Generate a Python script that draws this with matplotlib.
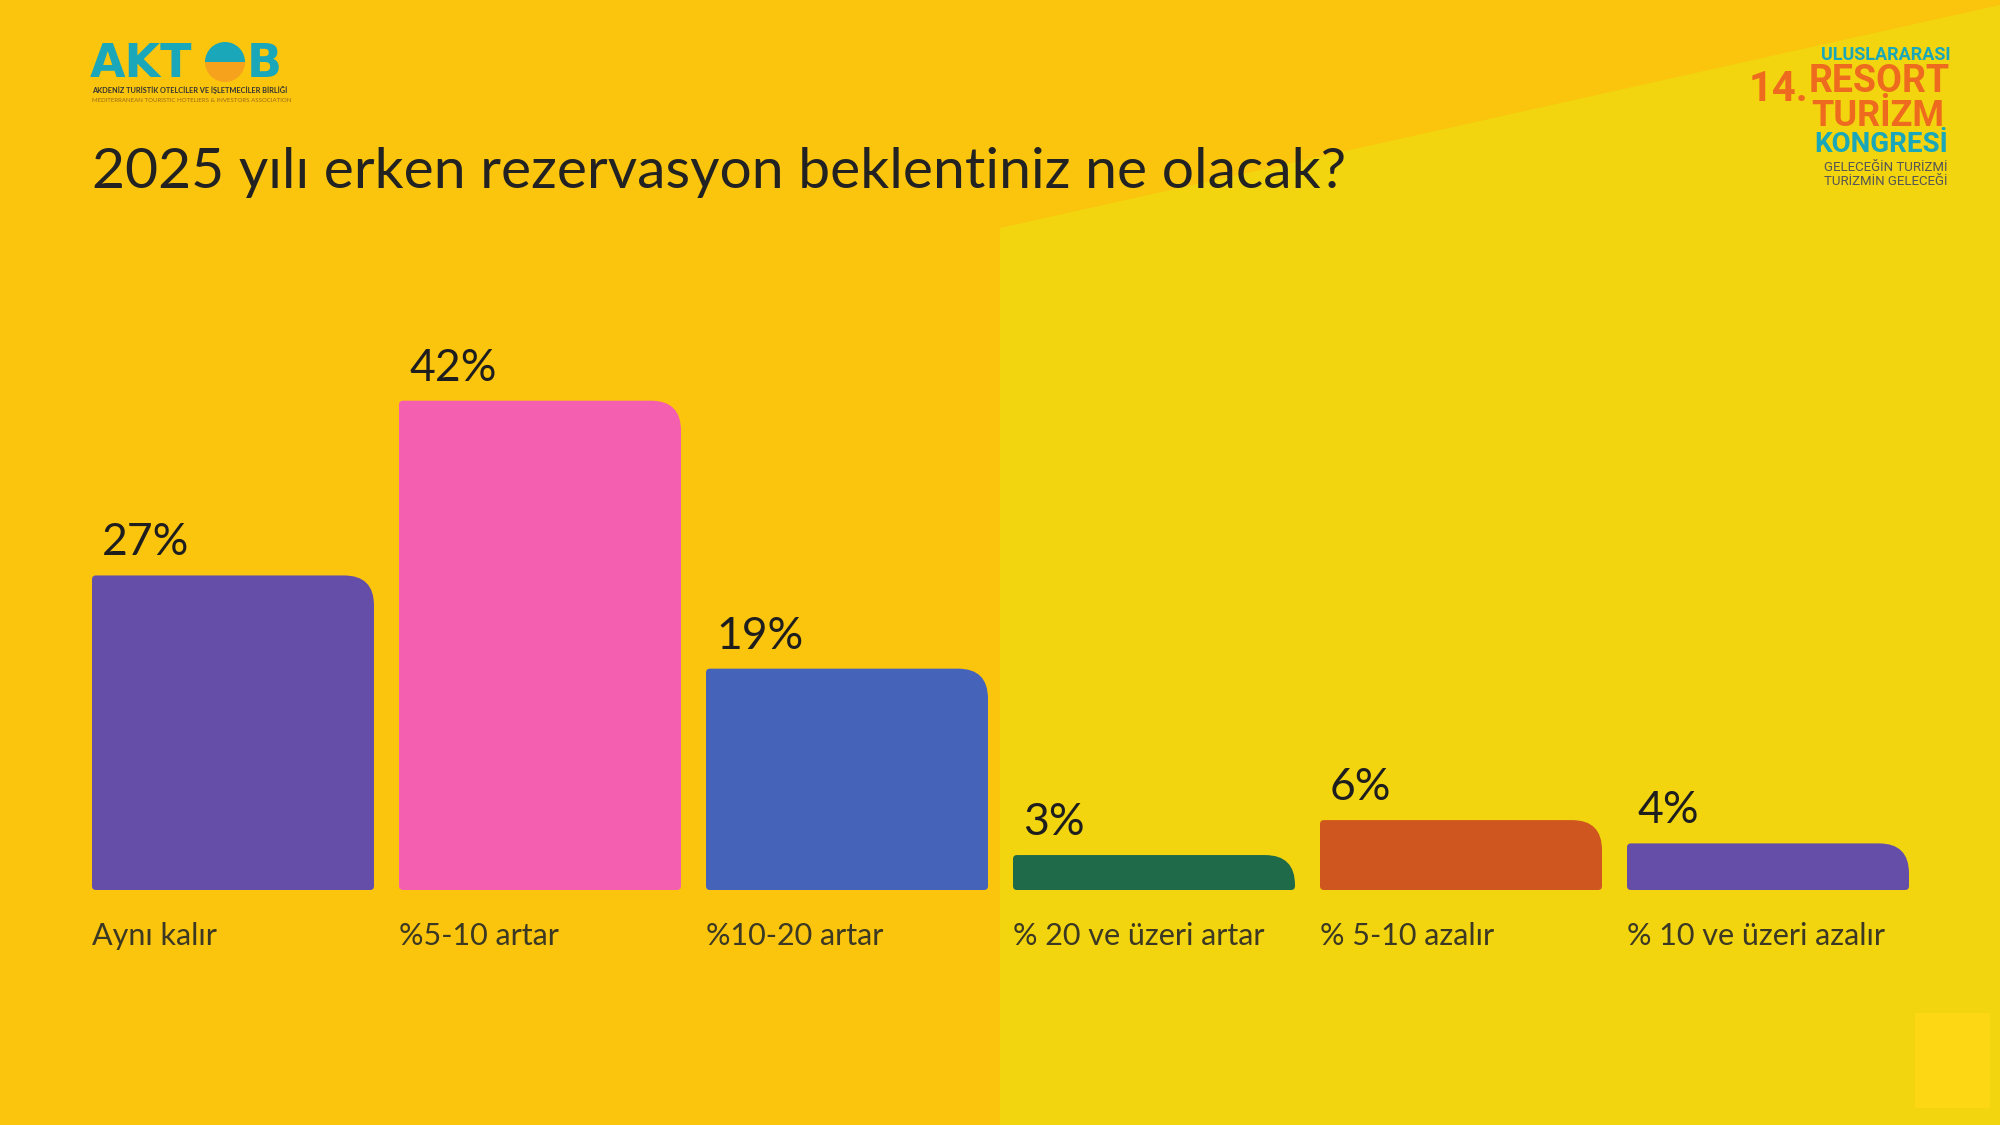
import matplotlib
matplotlib.use("Agg")
import matplotlib.pyplot as plt
from matplotlib.path import Path
from matplotlib.patches import PathPatch, Polygon, Rectangle, Wedge

# ---- data ----
categories = ["Aynı kalır", "%5-10 artar", "%10-20 artar",
              "% 20 ve üzeri artar", "% 5-10 azalır", "% 10 ve üzeri azalır"]
values = [27, 42, 19, 3, 6, 4]
value_labels = ["27%", "42%", "19%", "3%", "6%", "4%"]
bar_colors = ["#644EA8", "#F45FAF", "#4563B8", "#1F6A48", "#D0561F", "#644EA8"]
title = "2025 yılı erken rezervasyon beklentiniz ne olacak?"

W, H = 2000, 1125
FONT = ["Lato", "DejaVu Sans"]

fig = plt.figure(figsize=(20, 11.25), dpi=100)

# ---- background ----
bg = fig.add_axes([0, 0, 1, 1], zorder=0)
bg.set_xlim(0, W)
bg.set_ylim(H, 0)
bg.axis("off")
bg.add_patch(Rectangle((0, 0), W, H, color="#FBC50D", lw=0))
bg.add_patch(Polygon([(1000, H), (1000, 228), (W, 5), (W, H)], closed=True,
                     color="#F2D40F", lw=0))
bg.add_patch(Rectangle((1915, 1013), 75, 95, color="#FDD713", lw=0))

# ---- title ----
bg.text(92, 188, title, fontsize=41, family=FONT, color="#222222",
        va="baseline", ha="left")

# ---- AKTOB logo ----
teal = "#19A7B9"
bg.text(90, 77, "AKT", fontsize=33, fontweight="bold", family=["DejaVu Sans"],
        color=teal, va="baseline", ha="left")
bg.add_patch(Wedge((225, 62), 20, 0, 180, color="#F6A21C", lw=0))
bg.add_patch(Wedge((225, 62), 20, 180, 360, color=teal, lw=0))
bg.text(247, 77, "B", fontsize=33, fontweight="bold", family=["DejaVu Sans"],
        color=teal, va="baseline", ha="left")
bg.text(92, 93, "AKDENİZ TURİSTİK OTELCİLER VE İŞLETMECİLER BİRLİĞİ",
        fontsize=5.3, fontweight="bold", family=FONT, color="#333333",
        va="baseline", ha="left")
bg.text(92, 102, "MEDITERRANEAN TOURISTIC HOTELIERS & INVESTORS ASSOCIATION",
        fontsize=4.4, family=FONT, color="#9A6A1A", va="baseline", ha="left")

# ---- congress logo ----
orange = "#EE6A1E"
RX = 1950
LF = ["Roboto", "DejaVu Sans"]
bg.text(RX, 60, "ULUSLARARASI", fontsize=13, fontweight="bold", family=LF,
        color=teal, ha="right", va="baseline")
bg.text(RX, 92, "RESORT", fontsize=27, fontweight="bold", family=LF,
        color=orange, ha="right", va="baseline")
bg.text(1749, 101, "14.", fontsize=30, fontweight="bold", family=LF,
        color=orange, ha="left", va="baseline")
bg.text(RX - 6, 126, "TURİZM", fontsize=26, fontweight="bold", family=LF,
        color=orange, ha="right", va="baseline")
bg.text(RX - 2, 152, "KONGRESİ", fontsize=20, fontweight="bold", family=LF,
        color=teal, ha="right", va="baseline")
bg.text(RX - 2, 171, "GELECEĞİN TURİZMİ", fontsize=9.5, family=LF,
        color="#555555", ha="right", va="baseline")
bg.text(RX - 2, 185, "TURİZMİN GELECEĞİ", fontsize=9.5, family=LF,
        color="#555555", ha="right", va="baseline")

# ---- bars ----
left_px = 92
step_px, bar_px = 307, 282
base_px, unit_px = 890, 11.65
ymax = 50
n = len(values)
ax = fig.add_axes([left_px / W, (H - base_px) / H, n * step_px / W,
                   ymax * unit_px / H], zorder=1)
ax.set_facecolor("none")
x = list(range(n))
bw = bar_px / step_px
ax.set_xlim(-bw / 2, n - bw / 2)
ax.set_ylim(0, ymax)
ax.axis("off")
bars = ax.bar(x, values, width=bw, color=bar_colors)

fig.canvas.draw()
sx = ax.transData.transform((1, 0))[0] - ax.transData.transform((0, 0))[0]
sy = ax.transData.transform((0, 1))[1] - ax.transData.transform((0, 0))[1]


def rounded_path(x0, y0, w, h, r_tr, r_o):
    x1, y1 = x0 + w, y0 + h
    rtx, rty = r_tr / sx, min(r_tr / sy, h)
    rox, roy = r_o / sx, min(r_o / sy, h / 3)
    verts = [(x0 + rox, y0), (x1 - rox, y0), (x1, y0), (x1, y0 + roy),
             (x1, y1 - rty), (x1, y1), (x1 - rtx, y1),
             (x0 + rox, y1), (x0, y1), (x0, y1 - roy),
             (x0, y0 + roy), (x0, y0), (x0 + rox, y0), (x0 + rox, y0)]
    codes = [Path.MOVETO, Path.LINETO, Path.CURVE3, Path.CURVE3,
             Path.LINETO, Path.CURVE3, Path.CURVE3,
             Path.LINETO, Path.CURVE3, Path.CURVE3,
             Path.LINETO, Path.CURVE3, Path.CURVE3, Path.CLOSEPOLY]
    return Path(verts, codes)


for rect, col in zip(bars.patches, bar_colors):
    rect.set_visible(False)
    p = rounded_path(rect.get_x(), rect.get_y(), rect.get_width(),
                     rect.get_height(), 30, 4)
    ax.add_patch(PathPatch(p, facecolor=col, edgecolor="none"))

for rect, lab, cat in zip(bars.patches, value_labels, categories):
    ax.annotate(lab, (rect.get_x(), rect.get_height()), xytext=(10, 20),
                textcoords="offset pixels", fontsize=32, family=FONT,
                color="#1E1E1E", ha="left", va="baseline", annotation_clip=False)
    ax.annotate(cat, (rect.get_x(), 0), xytext=(0, -55),
                textcoords="offset pixels", fontsize=22, family=FONT,
                color="#3B3823", ha="left", va="baseline", annotation_clip=False)

fig.savefig("out.png", dpi=100)
